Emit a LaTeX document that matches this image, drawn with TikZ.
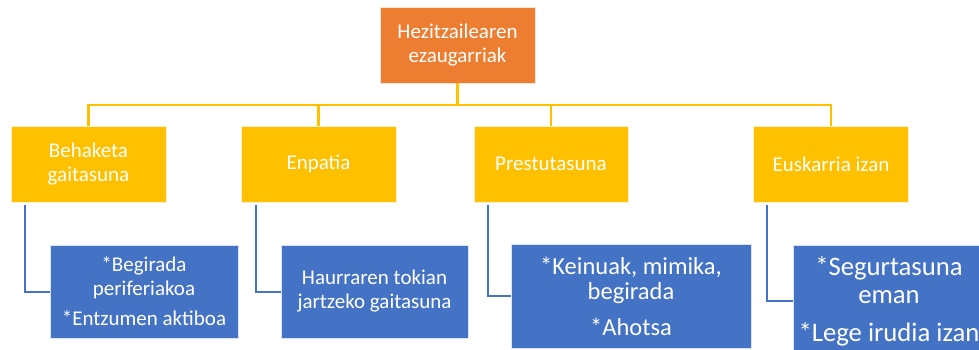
\documentclass[tikz,border=0pt]{standalone}
\usepackage{fontspec}
\setmainfont{Carlito}
\usepackage{tikz}
\definecolor{orangebox}{HTML}{ED7D31}
\definecolor{goldbox}{HTML}{FFC000}
\definecolor{bluebox}{HTML}{4472C4}
\tikzset{
	chartbox/.style={fill=#1,draw=white!80!#1,line width=0.6pt,text=white,align=center,inner sep=0pt,font=\fontsize{21}{24}\selectfont},
	topbox/.style={chartbox=orangebox,minimum width=155pt,minimum height=76pt},
	catbox/.style={chartbox=goldbox,minimum width=155pt,minimum height=76pt},
	itembox/.style={chartbox=bluebox,minimum width=188pt,minimum height=93pt},
	yline/.style={draw=goldbox,line width=2.2pt},
	bline/.style={draw=bluebox,line width=2pt}
}

\begin{document}
\begin{tikzpicture}[x=1pt,y=1pt]
	\useasboundingbox (0,0) rectangle (979,-349);
	\draw (457.5,-45) node (top) [topbox] {Hezitzailearen\\ezaugarriak};
	\draw (88.5,-164) node (behaketa) [catbox] {Behaketa\\gaitasuna};
	\draw (318.5,-164) node (enpatia) [catbox] {Enpatia};
	\draw (551,-164) node (prestu) [catbox,minimum width=154pt] {Prestutasuna};
	\draw (831,-164) node (euskarri) [catbox] {Euskarria izan};
	
	\draw (144,-291.5) node (begirada) [itembox] {*Begirada\\periferiakoa\\[6pt]*Entzumen aktiboa};
	\draw (374.5,-291.5) node (tokian) [itembox,minimum width=187pt] {Haurraren tokian\\jartzeko gaitasuna};
	\draw (631,-296) node (keinuak) [itembox,minimum width=240pt,minimum height=104pt,font=\fontsize{24.5}{25.5}\selectfont] {*Keinuak, mimika,\\begirada\\[10pt]*Ahotsa};
	\draw (889,-301) node (segur) [itembox,minimum width=192pt,minimum height=112pt,font=\fontsize{26.7}{28}\selectfont] {*Segurtasuna\\eman\\[10pt]*Lege irudia izan};
	
	\draw[yline] (top.south) -- ++(0,-22) -| (behaketa.north);
	\draw[yline] (top.south) -- ++(0,-22) -| (enpatia.north);
	\draw[yline] (top.south) -- ++(0,-22) -| (prestu.north);
	\draw[yline] (top.south) -- ++(0,-22) -| (euskarri.north);
	
	\draw[bline] ([xshift=14pt,yshift=-3pt]behaketa.south west) |- (begirada.west);
	\draw[bline] ([xshift=15pt,yshift=-3pt]enpatia.south west) |- (tokian.west);
	\draw[bline] ([xshift=14pt,yshift=-3pt]prestu.south west) |- (keinuak.west);
	\draw[bline] ([xshift=14pt,yshift=-3pt]euskarri.south west) |- (segur.west);
\end{tikzpicture}
\end{document}
